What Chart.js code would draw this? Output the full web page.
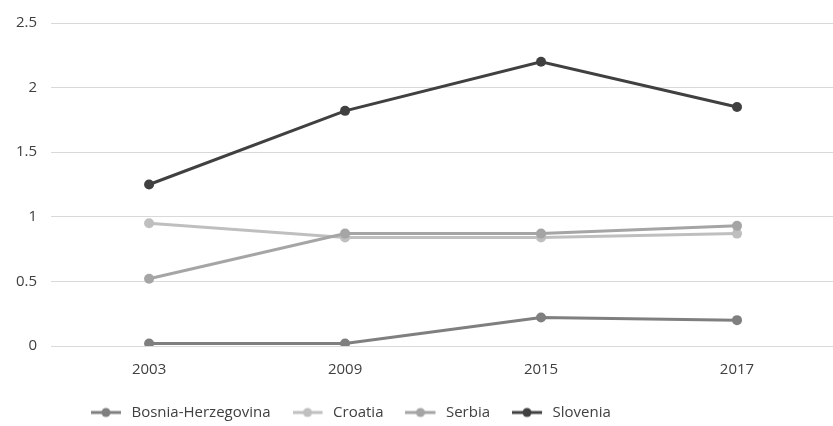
<!DOCTYPE html>
<html>
<head>
<meta charset="utf-8">
<script src="https://cdn.jsdelivr.net/npm/chart.js@4/dist/chart.umd.min.js"></script>
<style>
  html, body { margin: 0; padding: 0; background: #fff; overflow: hidden; }
  #wrap { width: 840px; height: 426px; }
</style>
</head>
<body>
<div id="wrap"><canvas id="chart"></canvas></div>
<script>
const years = ["2003", "2009", "2015", "2017"];
const bosnia = [0.02, 0.02, 0.22, 0.20];
const croatia = [0.95, 0.84, 0.84, 0.87];
const serbia = [0.52, 0.87, 0.87, 0.93];
const slovenia = [1.25, 1.82, 2.20, 1.85];
const yTicks = [0, 0.5, 1, 1.5, 2, 2.5];

const textColor = "#404040";
const font = { family: "Open Sans", size: 15 };

// small line-with-dot marker for the legend, like the spreadsheet one
function legendIcon(color) {
  const c = document.createElement("canvas");
  c.width = 33;
  c.height = 12;
  const ctx = c.getContext("2d");
  ctx.strokeStyle = color;
  ctx.lineWidth = 3;
  ctx.beginPath();
  ctx.moveTo(0, 6);
  ctx.lineTo(30, 6);
  ctx.stroke();
  ctx.fillStyle = color;
  ctx.beginPath();
  ctx.arc(15, 6, 4.5, 0, Math.PI * 2);
  ctx.fill();
  return c;
}

function series(label, data, color, order) {
  return {
    label,
    data,
    borderColor: color,
    backgroundColor: color,
    borderWidth: 3,
    pointRadius: 5,
    pointHoverRadius: 5,
    pointBackgroundColor: color,
    pointBorderWidth: 0,
    tension: 0,
    order // later series drawn on top
  };
}

// legend sits left of centre in the original
const moveLegend = {
  id: "moveLegend",
  afterLayout(chart) {
    const lg = chart.legend;
    const w = lg.width;
    const h = lg.height;
    lg.left = 69;
    lg.right = 69 + w;
    lg.top -= 3;
    lg.bottom = lg.top + h;
  }
};

new Chart(document.getElementById("chart"), {
  type: "line",
  data: {
    labels: years,
    datasets: [
      series("Bosnia-Herzegovina", bosnia, "#7f7f7f", 4),
      series("Croatia", croatia, "#bfbfbf", 3),
      series("Serbia", serbia, "#a5a5a5", 2),
      series("Slovenia", slovenia, "#404040", 1)
    ]
  },
  plugins: [moveLegend],
  options: {
    responsive: true,
    maintainAspectRatio: false,
    animation: false,
    layout: { padding: { top: 16, left: 2, right: 1, bottom: -7 } },
    scales: {
      x: {
        offset: true,
        grid: { display: false },
        border: { display: false },
        ticks: { color: textColor, font, padding: 7 }
      },
      y: {
        min: 0,
        max: 2.5,
        afterBuildTicks(axis) {
          axis.ticks = yTicks.map(v => ({ value: v }));
        },
        grid: { color: "#d9d9d9", lineWidth: 1, drawTicks: false },
        border: { display: false },
        ticks: {
          color: textColor,
          font,
          padding: 14,
          callback: v => String(v)
        }
      }
    },
    plugins: {
      tooltip: { enabled: false },
      legend: {
        position: "bottom",
        align: "start",
        labels: {
          color: textColor,
          font,
          usePointStyle: true,
          pointStyleWidth: 33,
          padding: 22,
          generateLabels(chart) {
            return chart.data.datasets.map((ds, i) => ({
              text: ds.label,
              fillStyle: ds.borderColor,
              strokeStyle: ds.borderColor,
              fontColor: textColor,
              lineWidth: 0,
              pointStyle: legendIcon(ds.borderColor),
              hidden: false,
              datasetIndex: i
            }));
          }
        }
      }
    }
  }
});
</script>
</body>
</html>
